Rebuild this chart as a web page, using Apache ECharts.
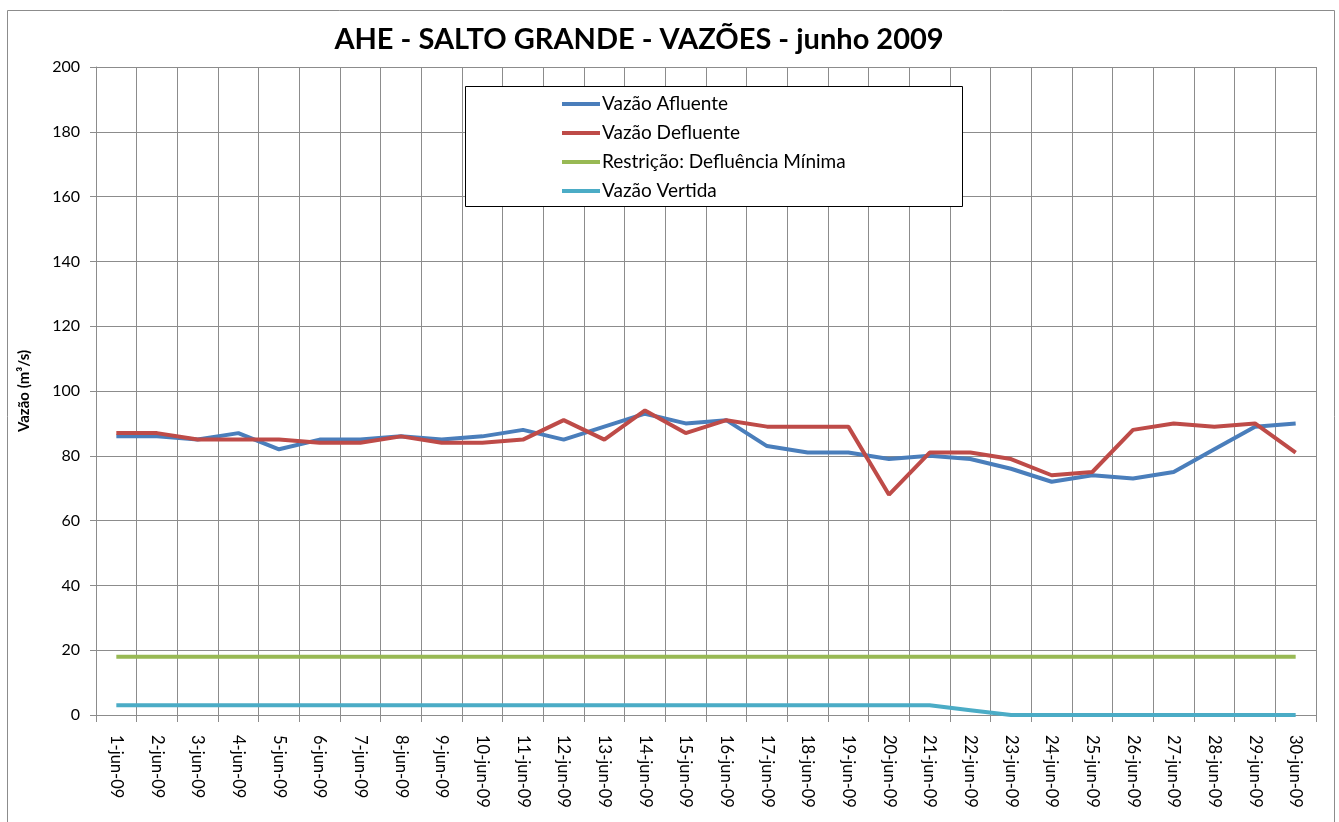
<!DOCTYPE html>
<html>
<head>
<meta charset="utf-8">
<title>AHE - SALTO GRANDE - VAZÕES - junho 2009</title>
<script src="https://cdn.jsdelivr.net/npm/echarts@6/dist/echarts.min.js"></script>
<style>
    html, body {margin: 0; padding: 0; background: #fff;}
    #chart {width: 1339px; height: 822px;}
</style>
</head>
<body>
<div id="chart"></div>
<script>
//dias do mes
var dias = ['1-jun-09', '2-jun-09', '3-jun-09', '4-jun-09', '5-jun-09', '6-jun-09', '7-jun-09', '8-jun-09', '9-jun-09', '10-jun-09',
    '11-jun-09', '12-jun-09', '13-jun-09', '14-jun-09', '15-jun-09', '16-jun-09', '17-jun-09', '18-jun-09', '19-jun-09', '20-jun-09',
    '21-jun-09', '22-jun-09', '23-jun-09', '24-jun-09', '25-jun-09', '26-jun-09', '27-jun-09', '28-jun-09', '29-jun-09', '30-jun-09'];

//vazoes (m3/s)
var vazaoAfluente = [86, 86, 85, 87, 82, 85, 85, 86, 85, 86, 88, 85, 89, 93, 90, 91, 83, 81, 81, 79, 80, 79, 76, 72, 74, 73, 75, 82, 89, 90];
var vazaoDefluente = [87, 87, 85, 85, 85, 84, 84, 86, 84, 84, 85, 91, 85, 94, 87, 91, 89, 89, 89, 68, 81, 81, 79, 74, 75, 88, 90, 89, 90, 81];
var defluenciaMinima = [18, 18, 18, 18, 18, 18, 18, 18, 18, 18, 18, 18, 18, 18, 18, 18, 18, 18, 18, 18, 18, 18, 18, 18, 18, 18, 18, 18, 18, 18];
var vazaoVertida = [3, 3, 3, 3, 3, 3, 3, 3, 3, 3, 3, 3, 3, 3, 3, 3, 3, 3, 3, 3, 3, 1.5, 0, 0, 0, 0, 0, 0, 0, 0];

var nomes = ['Vazão Afluente', 'Vazão Defluente', 'Restrição: Defluência Mínima', 'Vazão Vertida'];
var cores = ['#4A7EBB', '#BE4B48', '#98B954', '#4BACC6'];

var fonte = 'Lato, "Open Sans", sans-serif';
var cinza = '#8C8C8C';

function linha(idx, dados) {
    return {
        name: nomes[idx],
        type: 'line',
        data: dados,
        symbol: 'none',
        color: cores[idx],
        lineStyle: {width: 4, color: cores[idx]},
        z: 2
    };
}

var chart = echarts.init(document.getElementById('chart'));
chart.setOption({
    animation: false,
    backgroundColor: '#fff',
    title: {
        text: 'AHE - SALTO GRANDE - VAZÕES - junho 2009',
        left: 634,
        top: 20,
        textAlign: 'center',
        textStyle: {fontFamily: fonte, fontWeight: 'bold', fontSize: 29, color: '#000'}
    },
    legend: {
        data: nomes,
        orient: 'vertical',
        left: 562,
        top: 92,
        icon: 'rect',
        itemWidth: 38,
        itemHeight: 4,
        itemGap: 5,
        padding: 0,
        textStyle: {fontFamily: fonte, fontSize: 19, color: '#000', lineHeight: 24, padding: [0, 0, 0, -3]},
        z: 5
    },
    grid: {left: 96, top: 67, width: 1220, height: 648, containLabel: false},
    xAxis: {
        type: 'category',
        data: dias,
        boundaryGap: true,
        axisLine: {show: true, lineStyle: {color: cinza, width: 1}},
        axisTick: {show: true, length: 7, lineStyle: {color: cinza}},
        splitLine: {show: true, lineStyle: {color: cinza, width: 1}},
        axisLabel: {
            rotate: -90,
            interval: 0,
            margin: 20,
            fontFamily: fonte,
            fontSize: 16.5,
            color: '#000'
        }
    },
    yAxis: {
        type: 'value',
        min: 0,
        max: 200,
        interval: 20,
        name: 'Vazão (m³/s)',
        nameLocation: 'middle',
        nameGap: 64,
        nameTextStyle: {fontFamily: fonte, fontWeight: 'bold', fontSize: 15, color: '#000'},
        axisLine: {show: true, lineStyle: {color: cinza, width: 1}},
        axisTick: {show: true, length: 6, lineStyle: {color: cinza}},
        splitLine: {show: true, lineStyle: {color: cinza, width: 1}},
        axisLabel: {margin: 16, fontFamily: fonte, fontSize: 16, color: '#000'}
    },
    graphic: [
        //borda externa
        {type: 'rect', shape: {x: 7.5, y: 10.5, width: 1327, height: 830}, style: {fill: 'none', stroke: '#8C8C8C', lineWidth: 1}, z: 0, silent: true},
        //caixa da legenda
        {type: 'rect', shape: {x: 465.5, y: 86.5, width: 497, height: 120}, style: {fill: '#fff', stroke: '#000', lineWidth: 1}, z: 3, silent: true}
    ],
    series: [
        linha(0, vazaoAfluente),
        linha(1, vazaoDefluente),
        linha(2, defluenciaMinima),
        linha(3, vazaoVertida)
    ]
});
</script>
</body>
</html>
